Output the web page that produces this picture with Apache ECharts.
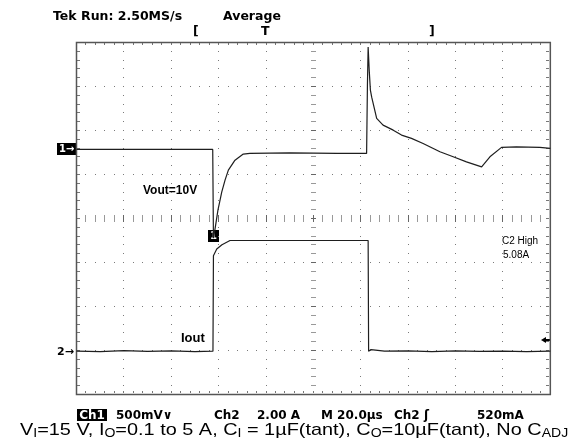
<!DOCTYPE html>
<html>
<head>
<meta charset="utf-8">
<style>
  html, body { margin: 0; padding: 0; background: #fff; }
  #scope { width: 573px; height: 440px; }
</style>
<script src="https://cdn.jsdelivr.net/npm/echarts@6/dist/echarts.min.js"></script>
</head>
<body>
<div id="scope"></div>
<script>
// Load-transient capture: time in microseconds (20 us/div, 10 divisions)
const tVout = [0, 57.5, 57.8, 58.4, 59.7, 61.3, 62.7, 64.1, 66.9, 70.4, 73.2, 90, 110, 122.45, 122.8, 123.1, 123.6, 124.05, 124.6, 126.7, 129.4, 133.7, 137.2, 141.4, 146.3, 153.4, 159.0, 164.6, 171.0, 174.5, 179.4, 185.7, 195.6, 200];
// Ch1: output voltage deviation from the 10 V level, in mV (500 mV/div)
const vOut = [0, 0, -1008, -917, -690, -485, -349, -235, -122, -53, -45, -40, -45, -45, 731, 1163, 878, 674, 594, 352, 276, 219, 163, 125, 68, -27, -84, -141, -198, -84, 23, 30, 23, 11];

const tIout = [0, 10, 20, 30, 40, 50, 57.6, 57.8, 59.2, 61.4, 64.8, 80, 100, 123.1, 123.3, 124.3, 130, 140, 150, 160, 170, 180, 190, 200];
// Ch2: output current in A (2.00 A/div)
const iOut = [0.05, 0.03, 0.07, 0.04, 0.06, 0.03, 0.05, 4.39, 4.69, 4.89, 5.08, 5.08, 5.08, 5.08, 0.05, 0.12, 0.05, 0.06, 0.03, 0.06, 0.04, 0.05, 0.03, 0.05];
const iHigh = 5.08;

// Screen setup: 10 x 8 divisions
const T_PER_DIV = 20, V_PER_DIV = 500, I_PER_DIV = 2;
const CH1_REF_DIV = 1.57;    // Ch1 reference marker, divisions above centre
const CH2_GND_DIV = -3.04;   // Ch2 ground marker, divisions above centre

const GRID = { left: 76.5, top: 42.5, width: 474, height: 352 };
const DOT = '#7a7a7a';
const TRACE = '#1e1e1e';

function renderGraticule(params, api) {
  const kids = [];
  const P = (t, d) => api.coord([t, d]);
  const rect = (x, y, w, h, fill) => kids.push({
    type: 'rect', silent: true,
    shape: { x: x, y: y, width: w, height: h },
    style: { fill: fill || DOT }
  });
  // dotted division lines
  for (let k = 1; k < 10; k++) {
    if (k === 5) continue;
    for (let m = 1; m < 40; m++) {
      const p = P(k * T_PER_DIV, -4 + m * 0.2);
      rect(Math.floor(p[0]), Math.floor(p[1]), 1, 1);
    }
  }
  for (let j = -3; j <= 3; j++) {
    if (j === 0) continue;
    for (let m = 1; m < 50; m++) {
      const p = P(m * T_PER_DIV / 5, j);
      rect(Math.floor(p[0]), Math.floor(p[1]), 1, 1);
    }
  }
  // centre axes with minor ticks
  for (let m = 1; m < 50; m++) {
    const p = P(m * T_PER_DIV / 5, 0);
    rect(Math.floor(p[0]), Math.floor(p[1]) - 3, 1, 7, m % 5 === 0 ? '#666' : '#999');
  }
  for (let m = 1; m < 40; m++) {
    const p = P(5 * T_PER_DIV, -4 + m * 0.2);
    rect(Math.floor(p[0]) - 2, Math.floor(p[1]), 5, 1, m % 5 === 0 ? '#666' : '#999');
  }
  // border ticks
  for (let m = 1; m < 40; m++) {
    const pl = P(0, -4 + m * 0.2), pr = P(10 * T_PER_DIV, -4 + m * 0.2);
    rect(Math.floor(pl[0]) + 1, Math.floor(pl[1]), 3, 1, '#777');
    rect(Math.floor(pr[0]) - 4, Math.floor(pr[1]), 3, 1, '#777');
  }
  for (let m = 1; m < 50; m++) {
    const pt = P(m * T_PER_DIV / 5, 4), pb = P(m * T_PER_DIV / 5, -4);
    rect(Math.floor(pt[0]), Math.floor(pt[1]) + 1, 1, 2, '#777');
    rect(Math.floor(pb[0]), Math.floor(pb[1]) - 3, 1, 2, '#777');
  }
  // frame
  const a = P(0, 4), b = P(10 * T_PER_DIV, -4);
  kids.push({
    type: 'rect', silent: true,
    shape: { x: a[0], y: a[1], width: b[0] - a[0], height: b[1] - a[1] },
    style: { fill: 'none', stroke: '#555', lineWidth: 1.5 }
  });
  return { type: 'group', children: kids };
}

const hidden = { show: false };
const chart = echarts.init(document.getElementById('scope'), null, { renderer: 'canvas' });

const txt = (x, y, text, font, extra, el) => Object.assign({
  type: 'text', x: x, y: y, silent: true,
  style: Object.assign({ text: text, font: font, fill: '#000', align: 'left', verticalAlign: 'middle' }, extra || {})
}, el || {});

const topFont = 'bold 12.5px "DejaVu Sans"';
const statFont = 'bold 12px "DejaVu Sans"';

chart.setOption({
  animation: false,
  backgroundColor: '#ffffff',
  grid: Object.assign({ show: false }, GRID),
  xAxis: [{
    type: 'value', min: 0, max: 10 * T_PER_DIV, interval: T_PER_DIV,
    axisLine: hidden, axisTick: hidden, axisLabel: hidden, splitLine: hidden
  }],
  yAxis: [
    { type: 'value', name: 'Vout deviation (mV)',
      min: (-4 - CH1_REF_DIV) * V_PER_DIV, max: (4 - CH1_REF_DIV) * V_PER_DIV,
      axisLine: hidden, axisTick: hidden, axisLabel: hidden, splitLine: hidden, nameTextStyle: { opacity: 0 } },
    { type: 'value', name: 'Iout (A)',
      min: (-4 - CH2_GND_DIV) * I_PER_DIV, max: (4 - CH2_GND_DIV) * I_PER_DIV,
      axisLine: hidden, axisTick: hidden, axisLabel: hidden, splitLine: hidden, nameTextStyle: { opacity: 0 } },
    { type: 'value', min: -4, max: 4, interval: 1,
      axisLine: hidden, axisTick: hidden, axisLabel: hidden, splitLine: hidden }
  ],
  series: [
    { type: 'custom', name: 'graticule', xAxisIndex: 0, yAxisIndex: 2, z: 1,
      silent: true, renderItem: renderGraticule, data: [[0, 0]] },
    { type: 'line', name: 'Vout', xAxisIndex: 0, yAxisIndex: 0, z: 3,
      data: tVout.map((t, i) => [t, vOut[i]]), showSymbol: false, symbol: 'none',
      lineStyle: { color: TRACE, width: 1.2 } },
    { type: 'line', name: 'Iout', xAxisIndex: 0, yAxisIndex: 1, z: 3,
      data: tIout.map((t, i) => [t, iOut[i]]), showSymbol: false, symbol: 'none',
      lineStyle: { color: TRACE, width: 1.2 } }
  ],
  graphic: [
    txt(53, 17, 'Tek Run: 2.50MS/s', topFont),
    txt(223, 17, 'Average', topFont),
    txt(193, 32, '[', topFont),
    txt(261, 32, 'T', topFont),
    txt(429, 32, ']', topFont),
    // channel markers
    { type: 'rect', x: 57, y: 143, shape: { width: 20, height: 12 }, style: { fill: '#000' }, silent: true },
    txt(59, 149.5, '1\u2192', 'bold 10px "DejaVu Sans"', { fill: '#fff' }),
    txt(57, 352, '2\u2192', 'bold 11px "DejaVu Sans"'),
    { type: 'rect', x: 208, y: 230, shape: { width: 11, height: 12 }, style: { fill: '#000' }, silent: true },
    txt(213.5, 236.5, '1', 'bold 10px "DejaVu Sans"', { fill: '#fff', align: 'center' }),
    // trigger level indicator
    { type: 'polygon', silent: true, shape: { points: [[541, 340], [546, 337], [546, 343]] }, style: { fill: '#000' } },
    { type: 'rect', silent: true, shape: { x: 545, y: 339, width: 5, height: 2 }, style: { fill: '#000' } },
    // trace labels
    txt(143, 191, 'Vout=10V', 'bold 12px "Liberation Sans"'),
    txt(181, 338, 'Iout', 'bold 13px "Liberation Sans"'),
    txt(502, 241, 'C2 High', '10px "Liberation Sans"'),
    txt(503, 255, iHigh.toFixed(2) + 'A', '10px "Liberation Sans"'),
    // status line
    { type: 'rect', x: 77, y: 409, shape: { width: 30, height: 12 }, style: { fill: '#000' }, silent: true },
    txt(92, 415.5, 'Ch1', statFont, { fill: '#fff', align: 'center' }),
    txt(116, 415.5, '500mV\u2228', statFont),
    txt(214, 415.5, 'Ch2', statFont),
    txt(257, 415.5, '2.00 A', statFont),
    txt(321, 415.5, 'M 20.0\u00b5s', statFont),
    txt(394, 415.5, 'Ch2 \u0283', statFont),
    txt(477, 415.5, '520mA', statFont),
    // test conditions
    { type: 'text', x: 20, y: 420, scaleX: 1.17, silent: true,
      style: {
        text: 'V{s|I}=15 V, I{s|O}=0.1 to 5 A, C{s|I} = 1\u00b5F(tant), C{s|O}=10\u00b5F(tant), No C{s|ADJ}',
        font: '17px "Liberation Sans"', fill: '#000', align: 'left', verticalAlign: 'top',
        rich: {
          s: { font: '12px "Liberation Sans"', fill: '#000', verticalAlign: 'top', padding: [8, 0, 0, 0] }
        }
      } }
  ]
});
</script>
</body>
</html>
